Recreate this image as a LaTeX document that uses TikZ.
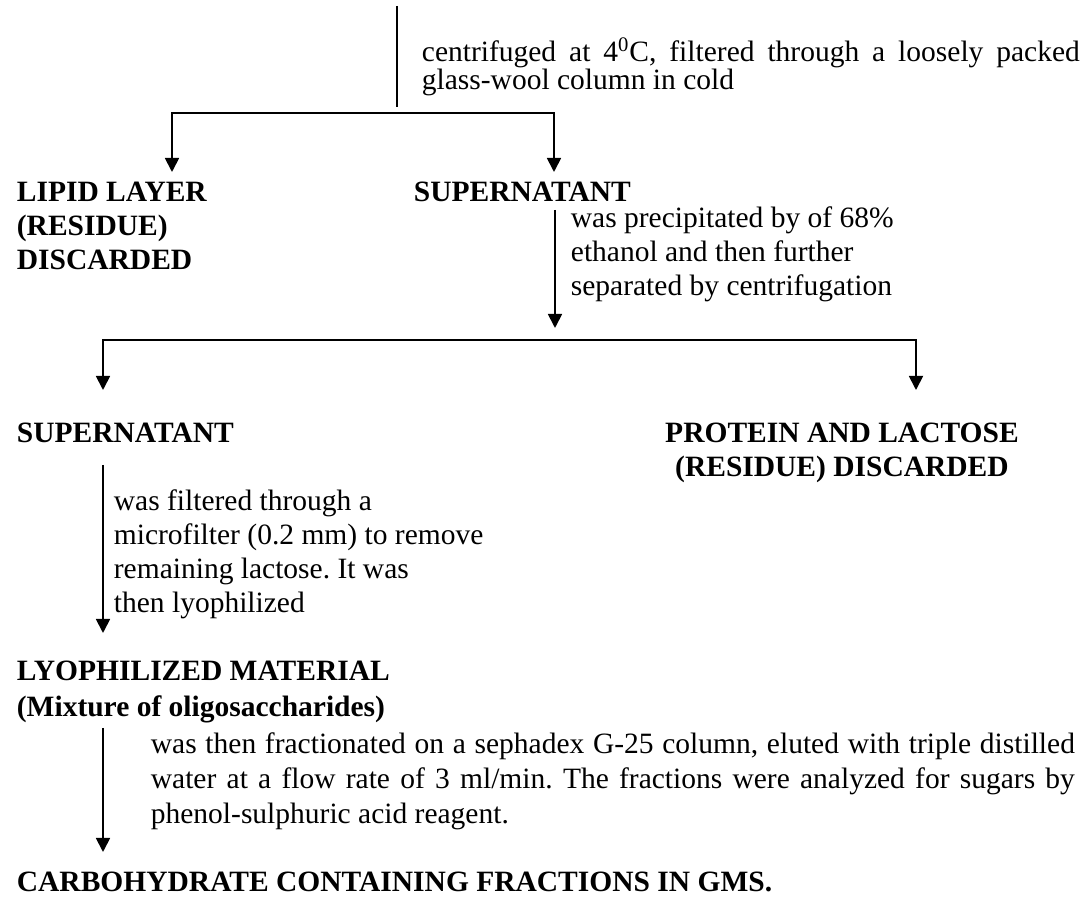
\documentclass[tikz,border=0pt]{standalone}
\usepackage{fontspec}
\setmainfont{Liberation Serif}
\usepackage{tikz}
\usetikzlibrary{arrows.meta,positioning}
\frenchspacing

\begin{document}
\begin{tikzpicture}[x=0.5pt,y=-0.5pt,>={Triangle[length=7pt,width=7pt]},line width=0.9pt,every node/.style={font=\fontsize{14.75}{17}\selectfont,inner sep=0pt}]
\tikzset{stage/.style={font=\fontsize{14.75}{17}\selectfont\bfseries,align=left,anchor=base west},note/.style={align=left,anchor=base west},para/.style={text width=#1,align=justify,anchor=base west}}
\useasboundingbox (0,0) rectangle (1088,897);
% steps (multi-line stage/note nodes sit on their last baseline)
\node[para=329pt,font=\fontsize{14.75}{14}\selectfont] (spin) at (421,62) {centrifuged at 4\textsuperscript{0}C, filtered through a loosely packed\linebreak glass-wool column in cold};
\node[stage] (lipid) at (16,270) {LIPID LAYER\\(RESIDUE)\\DISCARDED};
\node[stage] (supA) at (413,202) {SUPERNATANT};
\node[note] (precip) at (570,296) {was precipitated by of 68\%\\ethanol and then further\\separated by centrifugation};
\node[stage] (supB) at (16,443) {SUPERNATANT};
\node[stage,align=center,anchor=base] (waste) at (842,477) {PROTEIN AND LACTOSE\\(RESIDUE) DISCARDED};
\node[note] (filt) at (113,613) {was filtered through a\\microfilter (0.2 mm) to remove\\remaining lactose. It was\\then lyophilized};
\node[stage,font=\fontsize{14.75}{18}\selectfont\bfseries] (lyo) at (16,717) {LYOPHILIZED MATERIAL\\(Mixture of oligosaccharides)};
\node[para=462pt,font=\fontsize{14.75}{17.5}\selectfont] (frac) at (150,754) {was then fractionated on a sephadex G-25 column, eluted with triple distilled\linebreak water at a flow rate of 3 ml/min. The fractions were analyzed for sugars by\linebreak phenol-sulphuric acid reagent.};
\node[stage] (carbo) at (16,892) {CARBOHYDRATE CONTAINING FRACTIONS IN GMS.};
% connector ends
\coordinate (start) at (397,6);
\coordinate (spinend) at (397,107);
\coordinate (forkA) at (397,113);
\coordinate (lipidin) at (172,172);
\coordinate (supAin) at (554,172);
\coordinate (supAout) at (555,210);
\coordinate (precend) at (555,328);
\coordinate (forkB) at (555,340);
\coordinate (supBin) at (103,390);
\coordinate (wastein) at (916,390);
\coordinate (supBout) at (103,465);
\coordinate (lyoin) at (103,633);
\coordinate (lyoout) at (103,728);
\coordinate (carboin) at (103,852);
% flow
\draw (start)--(spinend);
\draw[->] (forkA)-|(lipidin);
\draw[->] (forkA)-|(supAin);
\draw[->] (supAout)--(precend);
\draw[->] (forkB)-|(supBin);
\draw[->] (forkB)-|(wastein);
\draw[->] (supBout)--(lyoin);
\draw[->] (lyoout)--(carboin);
\end{tikzpicture}
\end{document}
